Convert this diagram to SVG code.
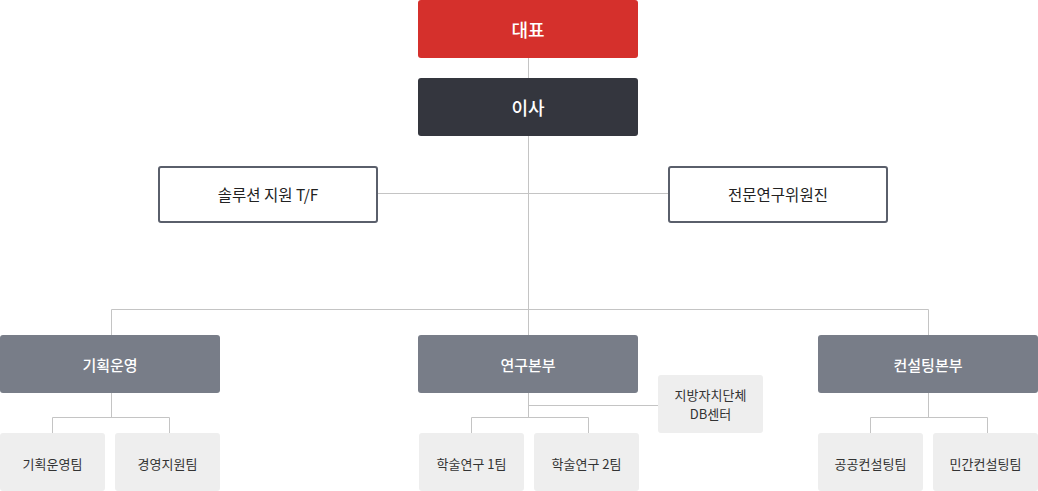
<svg xmlns="http://www.w3.org/2000/svg" width="1038" height="491" viewBox="0 0 1038 491">
<style>
text{font-family:"Noto Sans CJK KR","Noto Sans",sans-serif;text-anchor:middle;dominant-baseline:central}
.ln{stroke:#c4c4c4;stroke-width:1;fill:none}
.top{fill:#d5302c}
.dir{fill:#34363e}
.wb{fill:#ffffff;stroke:#5a5f6b;stroke-width:2}
.dept{fill:#787d88}
.team{fill:#eeeeee}
.tw{fill:#ffffff;font-size:18px;font-weight:500}
.tw2{fill:#ffffff;font-size:15px;font-weight:500}
.td{fill:#222222;font-size:15.5px;font-weight:400}
.ts{fill:#333333;font-size:13px}
</style>
<g id="connectors">
<path class="ln" d="M528.5 58V335"/>
<path class="ln" d="M378 193.5H668"/>
<path class="ln" d="M111.5 335V309.5H928.5V335"/>
<path class="ln" d="M111.5 393V417.5M52.5 433V417.5H169.5V433"/>
<path class="ln" d="M528.5 393V417.5M471.5 433V417.5H588.5V433M528.5 405.5H658"/>
<path class="ln" d="M928.5 393V417.5M870.5 433V417.5H987.5V433"/>
</g>
<g id="n-ceo"><rect class="top" x="418" y="0" width="220" height="58" rx="3"/><text class="tw" x="528" y="29">대표</text></g>
<g id="n-director"><rect class="dir" x="418" y="78" width="220" height="58" rx="3"/><text class="tw" x="528" y="107">이사</text></g>
<g id="n-tf"><rect class="wb" x="159" y="167" width="218" height="55" rx="2"/><text class="td" x="268" y="194">솔루션 지원 T/F</text></g>
<g id="n-expert"><rect class="wb" x="669" y="167" width="218" height="55" rx="2"/><text class="td" x="778" y="194">전문연구위원진</text></g>
<g id="n-plan"><rect class="dept" x="0" y="335" width="220" height="58" rx="3"/><text class="tw2" x="110" y="364">기획운영</text></g>
<g id="n-research"><rect class="dept" x="418" y="335" width="220" height="58" rx="3"/><text class="tw2" x="528" y="364">연구본부</text></g>
<g id="n-consult"><rect class="dept" x="818" y="335" width="220" height="58" rx="3"/><text class="tw2" x="928" y="364">컨설팅본부</text></g>
<g id="n-plan-team"><rect class="team" x="0" y="433" width="105" height="58" rx="3"/><text class="ts" x="52.5" y="463">기획운영팀</text></g>
<g id="n-mgmt-team"><rect class="team" x="115" y="433" width="105" height="58" rx="3"/><text class="ts" x="167.5" y="463">경영지원팀</text></g>
<g id="n-acad1"><rect class="team" x="419" y="433" width="105" height="58" rx="3"/><text class="ts" x="471.5" y="463">학술연구 1팀</text></g>
<g id="n-acad2"><rect class="team" x="534" y="433" width="105" height="58" rx="3"/><text class="ts" x="586.5" y="463">학술연구 2팀</text></g>
<g id="n-db"><rect class="team" x="658" y="375" width="105" height="58" rx="3"/><text class="ts" x="710.5" y="394">지방자치단체</text><text class="ts" x="710.5" y="413">DB센터</text></g>
<g id="n-public"><rect class="team" x="818" y="433" width="105" height="58" rx="3"/><text class="ts" x="870.5" y="463">공공컨설팅팀</text></g>
<g id="n-private"><rect class="team" x="933" y="433" width="105" height="58" rx="3"/><text class="ts" x="985.5" y="463">민간컨설팅팀</text></g>
</svg>
